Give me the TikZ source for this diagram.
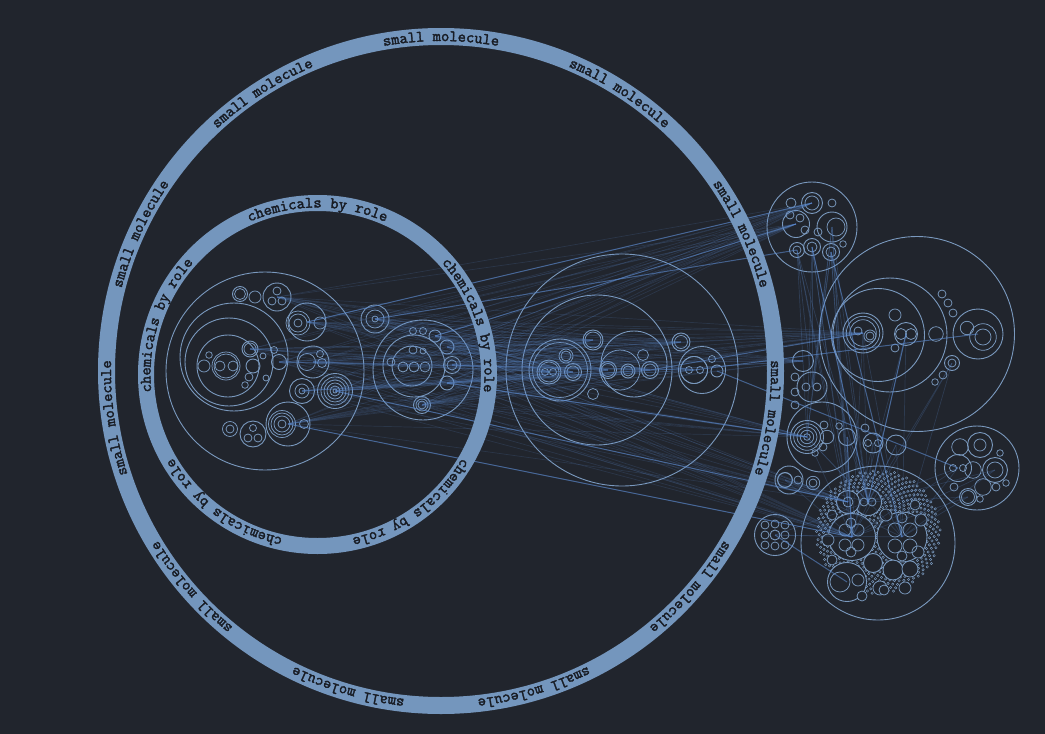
\documentclass[tikz,border=0pt]{standalone}
\usepackage{fontspec}
\newfontfamily\ringfont[FakeBold=2.2]{Latin Modern Mono}
\usetikzlibrary{decorations.text,calc}
\definecolor{bg}{RGB}{33,37,45}
\definecolor{ringblue}{RGB}{116,150,189}
\definecolor{packblue}{RGB}{122,153,190}
\definecolor{edgeblue}{RGB}{92,138,206}
\definecolor{ringtext}{RGB}{24,28,36}
\newcommand\ringface{\ringfont\fontsize{16}{16}\selectfont\color{ringtext}}
\tikzset{pack/.style={draw=packblue, line width=0.75pt},
  hub/.style={circle, draw=packblue, line width=0.9pt, inner sep=0pt, outer sep=0pt},
  edge/.style={edgeblue, line width=0.7pt, opacity=0.17},
  strong/.style={edgeblue, line width=1pt, opacity=0.6},
  ringline/.style={draw=ringblue}}

\begin{document}
\begin{tikzpicture}[x=1pt,y=-1pt]
  \fill[bg] (0,0) rectangle (1045,734);
  \useasboundingbox (0,0) rectangle (1045,734);

  % big packs
  \foreach \n/\x/\y/\d in {roleA/265/371/198, roleA1/234/357/108, roleA2/229/362/88, roleA3/228/366/62,
      roleB/423/370/100, roleB1/414/366/62, roleB2/412/366/40,
      midM/622/370/232, midM1/597/370/150, midM2/560/370/62, midM3/634/364/66, midM4/702/370/47,
      eastR1/812/227/90, eastR2/917/334/195, eastR2a/890/335/114, eastR2b/878/335/93,
      eastR3/822/437/70, eastR4/977/468/84, eastR5/789/480/28, eastR6/775/535/41}
    \node[hub, minimum size=\d pt] (\n) at (\x,\y) {};

  % dense cloud
  \foreach \i in {1,...,700} {
    \pgfmathsetmacro\rr{2.35*sqrt(\i)}
    \pgfmathsetmacro\aa{mod(\i*10,36)*10+mod(\i*3,36)*10+\i*7.508}
    \draw[pack, line width=0.45pt] ($(878,532)+(\aa:\rr)$) circle[radius=1.2pt];
  }
  \node[hub, minimum size=154pt] (eastR7) at (878,543) {};
  \foreach \n/\x/\y/\d in {r7a/852/537/47, r7b/902/537/50, r7c/847/582/39, r7d/868/502/27,
      r7e/848/502/23, r7f/873/563/19, r7g/893/570/20}
    \node[hub, fill=bg, minimum size=\d pt] (\n) at (\x,\y) {};
  \foreach \x/\y/\r in {910/569/8, 880/588/7, 862/596/5, 905/588/6, 918/552/6, 921/520/6, 915/505/5,
      832/515/5, 828/540/6, 832/560/5, 886/515/6, 884/590/5}
    \draw[pack, fill=bg] (\x,\y) circle[radius=\r pt];

  % leaves
  \foreach \n/\x/\y/\d in {a1/279/362/15, a2/307/322/38, a3/313/362/32, a4/302/391/25, a5/335/391/35,
      a6/288/424/44, a7/253/366/14, a8/277/297/28, a9/250/349/16, a10/240/294/15, a11/253/434/26,
      b1/452/365/17, b2/447/347/14, b3/447/383/14, b4/422/405/17, b5/435/336/12, b6/403/367/10,
      b7/414/367/10, c1/375/319/28,
      m1/549/372/24, m2/573/372/17, m3/608/370/17, m4/650/370/17, m5/694/370/27, m6/593/340/20,
      m7/628/371/14, m8/681/342/18, m9/717/371/12,
      r1a/812/203/21, r1b/796/224/27, r1c/832/227/30, r1d/812/247/17, r1e/831/252/17, r1f/797/250/15,
      r2a/863/333/40, r2b/906/334/23, r2c/978/334/50, r2d/952/363/15,
      r3a/807/437/33, r3b/847/437/17, r3c/873/443/20, r3d/896/445/20,
      r4a/958/468/27, r4b/995/470/25, r4c/980/445/25, r4d/968/497/17,
      r5a/785/480/15, r6a/775/535/10, sideA/803/361/21, sideB/812/387/30}
    \node[hub, minimum size=\d pt] (\n) at (\x,\y) {};

  % small rings
  \foreach \x/\y/\r in {226/366/14, 226/366/12, 220/366/5, 233/366/5, 204/366/6, 209/355/3.3,
      250/349/6, 249/377/4, 245/385/3.3, 274/350/3.5, 240/294/5.5, 255/297/6, 272/301/4, 282/301/4,
      277/291/4, 298/323/12, 298/323/9, 298/323/4, 320/323/6, 307/362/8.5, 322/363/4.5, 320/354/3.5,
      302/391/7, 302/391/3, 335/391/14, 335/391/11, 335/391/8, 335/391/5, 335/391/2,
      282/424/13.5, 282/424/11, 282/424/8, 282/424/4, 304/424/4.5,
      248/438/4, 258/438/4, 253/428/3.5, 230/429/7.5, 230/429/4, 266/378/3, 263/356/3,
      413/350/4, 423/351/3, 391/362/4, 413/331/3.5, 423/331/3.5, 452/365/5, 422/405/6, 422/405/4,
      425/367/5, 375/319/9, 375/319/3,
      560/370/27.5, 549/372/10, 545/372/3.5, 553/372/3.5, 573/372/6, 566/356/7, 566/356/5,
      620/370/20, 608/370/6.5, 628/371/5, 650/370/6, 643/355/5.5, 593/340/8, 593/394/5.5,
      694/370/13.5, 689/370/3.5, 700/370/3.5, 712/359/3.5, 681/342/6.5,
      791/203/5, 832/203/4, 836/227/9, 843/244/3.3, 818/232/4, 790/215/4, 800/218/4, 805/230/4,
      812/203/7, 797/250/4, 831/252/5, 812/247/5,
      863/333/16.7, 863/333/13.3, 858/331/4, 870/336/6, 870/336/4, 901/334/5.5, 911/334/5.5,
      895/315/6, 895/348/4, 936/334/7.3, 983/337/13.3, 983/337/8, 967/328/6.7,
      942/294/4, 948/303/4, 953/313/4, 952/363/4, 943/375/4, 935/382/3.3,
      806/387/4, 817/387/4, 795/377/4, 795/392/4, 795/405/4,
      807/437/13.3, 807/437/10, 807/437/6.7, 807/437/3.3, 827/437/6.7, 824/425/4, 823/447/4,
      839/426/3.3, 815/453/3.3, 865/428/4, 868/443/3.5, 878/443/3.5,
      953/468/3.5, 963/468/3.5, 960/447/8.3, 973/470/8.3, 995/470/8, 983/487/8.3, 968/497/6.5,
      954/487/4, 996/487/4, 1006/483/3.3, 1000/453/3.3, 980/499/3.3, 980/445/6,
      785/480/7.3, 798/480/4, 813/483/6.7, 813/483/4,
      765/525/4, 785/525/4, 765/535/4, 785/535/4, 765/545/4, 775/546/4, 785/545/4, 775/524/4,
      845/530/6, 858/530/6, 845/545/6, 858/545/6, 851/523/5, 851/552/5,
      895/530/7, 910/530/7, 895/546/7, 910/546/7, 902/518/5, 902/556/5,
      840/582/10, 858/580/6, 864/502/4, 872/502/4, 848/502/5}
    \draw[pack] (\x,\y) circle[radius=\r pt];

  % links
  \foreach \s in {a1,a2,a3,a4,a5,a6,a8,a9,b1,b2,b3,b4,b5,c1}
    \foreach \t in {m1,m2,m3,m4,m5,m6,m8,r1a,r1b,r2a,r3a,r7a,r7e,sideA}
      \draw[edge] (\s.center) -- (\t.center);
  \foreach \s in {r1c,r1d,r1e,r1f}
    \foreach \t in {r7a,r7d,r7e,r3a,sideB}
      \draw[edge, opacity=0.25] (\s.center) -- (\t.center);
  \foreach \s in {r3a,r3b,r3c,r3d,r4a,r4b,r4d,r2a,r2b,r2d,r5a,r6a}
    \foreach \t in {r7a,r7b,r7d}
      \draw[edge, opacity=0.22] (\s.center) -- (\t.center);
  \foreach \s/\t in {b5/r1b, c1/r1f, a2/r1a, a5/r7e, a6/r7a, m4/r2a, m5/r2c, m9/r4a,
      r1d/r7d, r1e/r7b, r3b/r7a, r2b/r7d, b3/r3a, r6a/r7c}
    \draw[strong] (\s.center) -- (\t.center);

  % rings
  \draw[ringline, line width=17pt] (441,371) circle[radius=334.5pt];
  \draw[ringline, line width=16pt] (317.5,374.5) circle[radius=171.5pt];
  \begin{scope}[shift={(441,371)}, y=1pt]
    \foreach \a in {0,...,10} {
      \pgfmathsetmacro\s{90-\a*360/11+20}
      \pgfmathsetmacro\e{90-\a*360/11-20}
      \path[decorate, decoration={text along path, text align=center,
          text={|\ringface|small molecule}}] (\s:330) arc[start angle=\s, end angle=\e, radius=330pt];
    }
  \end{scope}
  \begin{scope}[shift={(317.5,374.5)}, y=1pt]
    \foreach \a in {0,...,4} {
      \pgfmathsetmacro\s{90-\a*72+36}
      \pgfmathsetmacro\e{90-\a*72-36}
      \path[decorate, decoration={text along path, text align=center,
          text={|\ringface|chemicals by role}}] (\s:167) arc[start angle=\s, end angle=\e, radius=167pt];
    }
  \end{scope}
\end{tikzpicture}
\end{document}
